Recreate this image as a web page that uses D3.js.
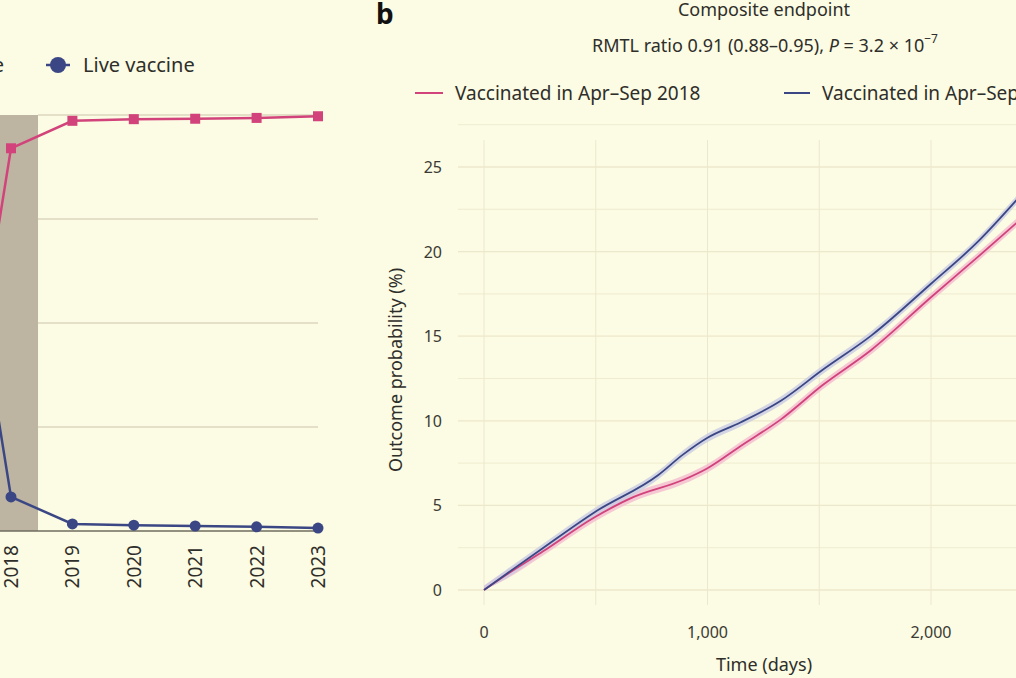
<!DOCTYPE html>
<html><head><meta charset="utf-8">
<script src="https://cdn.jsdelivr.net/npm/d3@7"></script>
<style>body{margin:0;background:#fcfbe3;}svg{display:block;font-family:"Noto Sans",sans-serif;}</style>
</head><body>
<script>
// Panel a data
const years = [2017, 2018, 2019, 2020, 2021, 2022, 2023];
const inactivatedPct = [0, 92, 98.6, 99, 99.1, 99.3, 99.7];
const livePct = [100, 8.2, 1.7, 1.4, 1.2, 1.0, 0.7];
const yearTicks = [2018, 2019, 2020, 2021, 2022, 2023];
const pctGrid = [0, 25, 50, 75, 100];
// Panel b data
const days2018 = [0, 100, 266, 495, 670, 890, 1000, 1147, 1330, 1514, 1734, 2000, 2211, 2400];
const prob2018 = [0, 0.9, 2.3, 4.3, 5.5, 6.5, 7.2, 8.5, 10.1, 12.1, 14.2, 17.3, 19.7, 21.9];
const days2019 = [0, 100, 266, 495, 780, 890, 1000, 1147, 1330, 1514, 1734, 2000, 2211, 2400];
const prob2019 = [0, 0.95, 2.5, 4.6, 6.8, 8.0, 9.0, 9.9, 11.2, 13.0, 15.05, 18.1, 20.6, 23.3];
const dayTicks = [0, 1000, 2000];
const probTicks = [0, 5, 10, 15, 20, 25];

const W = 1016, H = 678, bg = "#fcfbe3", red = "#d1437a", blue = "#3b4784";
const svg = d3.select("body").append("svg").attr("width", W).attr("height", H);
svg.append("rect").attr("width", W).attr("height", H).attr("fill", bg);

// ---------- Panel a ----------
const xa = d3.scaleLinear().domain([2018, 2023]).range([11, 318]);
const ya = d3.scaleLinear().domain([0, 100]).range([531, 115]);
svg.append("rect").attr("x", xa(2017.3)).attr("y", ya(100)).attr("width", xa(2018.44) - xa(2017.3))
  .attr("height", ya(0) - ya(100)).attr("fill", "#bdb5a2");
pctGrid.filter(d => d > 0).forEach(d => {
  svg.append("line").attr("x1", xa(2018.44)).attr("x2", xa(2023)).attr("y1", ya(d)).attr("y2", ya(d))
    .attr("stroke", "#c9c6ac").attr("stroke-width", 1.2);
});
svg.append("line").attr("x1", 0).attr("x2", xa(2023) + 3).attr("y1", ya(0)).attr("y2", ya(0))
  .attr("stroke", "#6f6c5e").attr("stroke-width", 1.5);
const la = d3.line().x((d, i) => xa(years[i])).y(d => ya(d));
svg.append("path").datum(inactivatedPct).attr("d", la).attr("fill", "none").attr("stroke", red).attr("stroke-width", 2.5);
svg.append("path").datum(livePct).attr("d", la).attr("fill", "none").attr("stroke", blue).attr("stroke-width", 2.5);
svg.selectAll(".sq").data(inactivatedPct).join("rect").attr("x", (d, i) => xa(years[i]) - 5).attr("y", d => ya(d) - 5)
  .attr("width", 10).attr("height", 10).attr("fill", red);
svg.selectAll(".ci").data(livePct).join("circle").attr("cx", (d, i) => xa(years[i])).attr("cy", d => ya(d))
  .attr("r", 5.5).attr("fill", blue);
yearTicks.forEach(y => {
  svg.append("text").attr("transform", `translate(${xa(y) + 7},${545}) rotate(-90)`)
    .attr("text-anchor", "end").attr("font-size", 19).attr("fill", "#2e2e2a").text(y);
});
// legend a
svg.append("text").attr("x", 4).attr("y", 72).attr("text-anchor", "end").attr("font-size", 20).attr("fill", "#2e2e2a").text("Inactivated vaccine");
svg.append("line").attr("x1", 46).attr("x2", 70).attr("y1", 65).attr("y2", 65).attr("stroke", blue).attr("stroke-width", 2.5);
svg.append("circle").attr("cx", 58).attr("cy", 65).attr("r", 8).attr("fill", blue);
svg.append("text").attr("x", 83).attr("y", 72).attr("font-size", 20).attr("fill", "#2e2e2a").text("Live vaccine");

// ---------- Panel b ----------
const xb = d3.scaleLinear().domain([0, 2000]).range([484, 931]);
const yb = d3.scaleLinear().domain([0, 25]).range([590, 167]);
const plotTop = 140, plotBottom = 605, plotLeft = 458;
d3.range(0, 3001, 500).forEach(d => {
  svg.append("line").attr("x1", xb(d)).attr("x2", xb(d)).attr("y1", plotTop).attr("y2", plotBottom)
    .attr("stroke", "#ece8cc").attr("stroke-width", 1);
});
d3.range(0, 27.6, 2.5).forEach(d => {
  svg.append("line").attr("x1", plotLeft).attr("x2", W).attr("y1", yb(d)).attr("y2", yb(d))
    .attr("stroke", "#ece8cc").attr("stroke-width", d % 5 === 0 ? 1.3 : 0.8);
});
const area = (xs) => d3.area().x((d, i) => xb(xs[i])).y0(d => yb(Math.max(0, d - 0.25))).y1(d => yb(d + 0.25)).curve(d3.curveMonotoneX);
const line = (xs) => d3.line().x((d, i) => xb(xs[i])).y(d => yb(d)).curve(d3.curveMonotoneX);
svg.append("path").datum(prob2018).attr("d", area(days2018)).attr("fill", "#f2bcd0").attr("opacity", 0.8);
svg.append("path").datum(prob2019).attr("d", area(days2019)).attr("fill", "#c9cce4").attr("opacity", 0.8);
svg.append("path").datum(prob2018).attr("d", line(days2018)).attr("fill", "none").attr("stroke", red).attr("stroke-width", 1.8);
svg.append("path").datum(prob2019).attr("d", line(days2019)).attr("fill", "none").attr("stroke", blue).attr("stroke-width", 1.8);
probTicks.forEach(d => svg.append("text").attr("x", 442).attr("y", yb(d) + 6).attr("text-anchor", "end")
  .attr("font-size", 16).attr("fill", "#3a3a34").text(d));
dayTicks.forEach(d => svg.append("text").attr("x", xb(d)).attr("y", 638).attr("text-anchor", "middle")
  .attr("font-size", 16).attr("fill", "#3a3a34").text(d3.format(",")(d)));
svg.append("text").attr("x", 764).attr("y", 671).attr("text-anchor", "middle").attr("font-size", 18).attr("fill", "#2e2e2a").text("Time (days)");
svg.append("text").attr("transform", "translate(402,370) rotate(-90)").attr("text-anchor", "middle")
  .attr("font-size", 18).attr("fill", "#2e2e2a").text("Outcome probability (%)");
svg.append("text").attr("x", 376).attr("y", 24).attr("font-size", 28).attr("font-weight", "bold").attr("fill", "#111").text("b");
svg.append("text").attr("x", 764).attr("y", 16).attr("text-anchor", "middle").attr("font-size", 18).attr("fill", "#2e2e2a").text("Composite endpoint");
const sub = svg.append("text").attr("x", 765).attr("y", 52).attr("text-anchor", "middle").attr("font-size", 18).attr("fill", "#2e2e2a");
sub.append("tspan").text("RMTL ratio 0.91 (0.88–0.95), ");
sub.append("tspan").attr("font-style", "italic").text("P");
sub.append("tspan").text(" = 3.2 × 10");
sub.append("tspan").attr("font-size", 12).attr("dy", -9).text("−7");
svg.append("line").attr("x1", 415).attr("x2", 443).attr("y1", 93).attr("y2", 93).attr("stroke", red).attr("stroke-width", 2);
svg.append("text").attr("x", 455).attr("y", 100).attr("font-size", 19).attr("fill", "#2e2e2a").text("Vaccinated in Apr–Sep 2018");
svg.append("line").attr("x1", 784).attr("x2", 810).attr("y1", 93).attr("y2", 93).attr("stroke", blue).attr("stroke-width", 2);
svg.append("text").attr("x", 822).attr("y", 100).attr("font-size", 19).attr("fill", "#2e2e2a").text("Vaccinated in Apr–Sep 2019");
</script>
</body></html>
